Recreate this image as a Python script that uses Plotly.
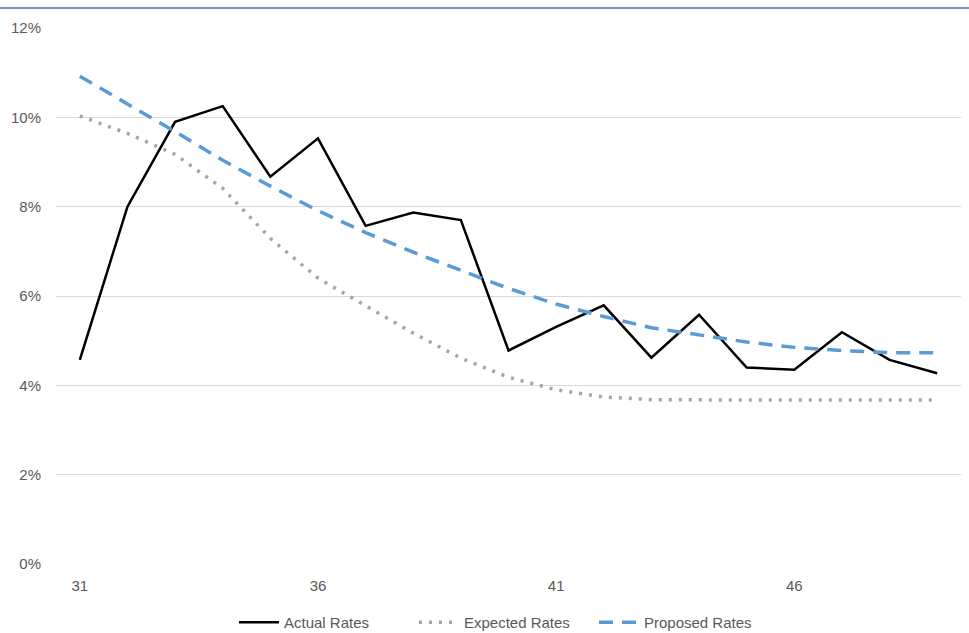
import plotly.graph_objects as go

ages = list(range(31, 50))
actual = [4.57, 8.00, 9.90, 10.25, 8.67, 9.53, 7.57, 7.87, 7.70, 4.78,
          5.31, 5.79, 4.62, 5.58, 4.40, 4.35, 5.19, 4.57, 4.27]
expected = [10.03, 9.64, 9.17, 8.41, 7.29, 6.40, 5.78, 5.17, 4.61, 4.18,
            3.90, 3.74, 3.68, 3.67, 3.67, 3.67, 3.67, 3.67, 3.67]
proposed = [10.92, 10.31, 9.68, 9.04, 8.46, 7.91, 7.42, 6.98, 6.57, 6.17,
            5.82, 5.54, 5.29, 5.13, 4.97, 4.85, 4.78, 4.73, 4.73]
x_ticks = [31, 36, 41, 46]
y_ticks = [0, 2, 4, 6, 8, 10, 12]

to_frac = lambda v: [a / 100 for a in v]

fig = go.Figure()
fig.add_trace(go.Scatter(x=ages, y=to_frac(actual), mode="lines", name="Actual Rates",
                         line=dict(color="#000000", width=2.5)))
fig.add_trace(go.Scatter(x=ages, y=to_frac(expected), mode="lines", name="Expected Rates",
                         line=dict(color="#A5A5A5", width=3.5, dash="3px,7px")))
fig.add_trace(go.Scatter(x=ages, y=to_frac(proposed), mode="lines", name="Proposed Rates",
                         line=dict(color="#5B9BD5", width=3.5, dash="14px,9px")))

plot_h = 633 - 28 - 69
fig.update_layout(
    width=969, height=633,
    margin=dict(l=56, r=8, t=28, b=69, autoexpand=False),
    plot_bgcolor="white", paper_bgcolor="white",
    font=dict(family="Liberation Sans, Arial, sans-serif", size=15, color="#595959"),
    showlegend=True,
    legend=dict(orientation="h", x=0.495, xanchor="center",
                y=-(623 - 564.5) / plot_h, yanchor="middle",
                font=dict(size=15, color="#595959"), itemwidth=40,
                entrywidth=125, entrywidthmode="pixels"),
    shapes=[dict(type="line", xref="paper", yref="paper",
                 x0=-0.1, x1=1.1, y0=1 + 20 / plot_h, y1=1 + 20 / plot_h,
                 line=dict(color="#4472C4", width=1.5))],
)
fig.update_xaxes(range=[30.5, 49.5], tickvals=x_ticks, showgrid=False, zeroline=False,
                 showline=False, ticks="", ticklabelstandoff=11,
                 tickfont=dict(size=15, color="#595959"))
fig.update_yaxes(range=[0, 0.12], tickvals=[v / 100 for v in y_ticks], tickformat=".0%",
                 showgrid=True, gridcolor="#D9D9D9", gridwidth=1, zeroline=False,
                 showline=False, ticks="", ticklabelstandoff=14,
                 tickfont=dict(size=15, color="#595959"))

fig.write_html("out.html", config={"displayModeBar": False},
               post_script="document.body.style.margin='0';document.body.style.overflow='hidden';")
